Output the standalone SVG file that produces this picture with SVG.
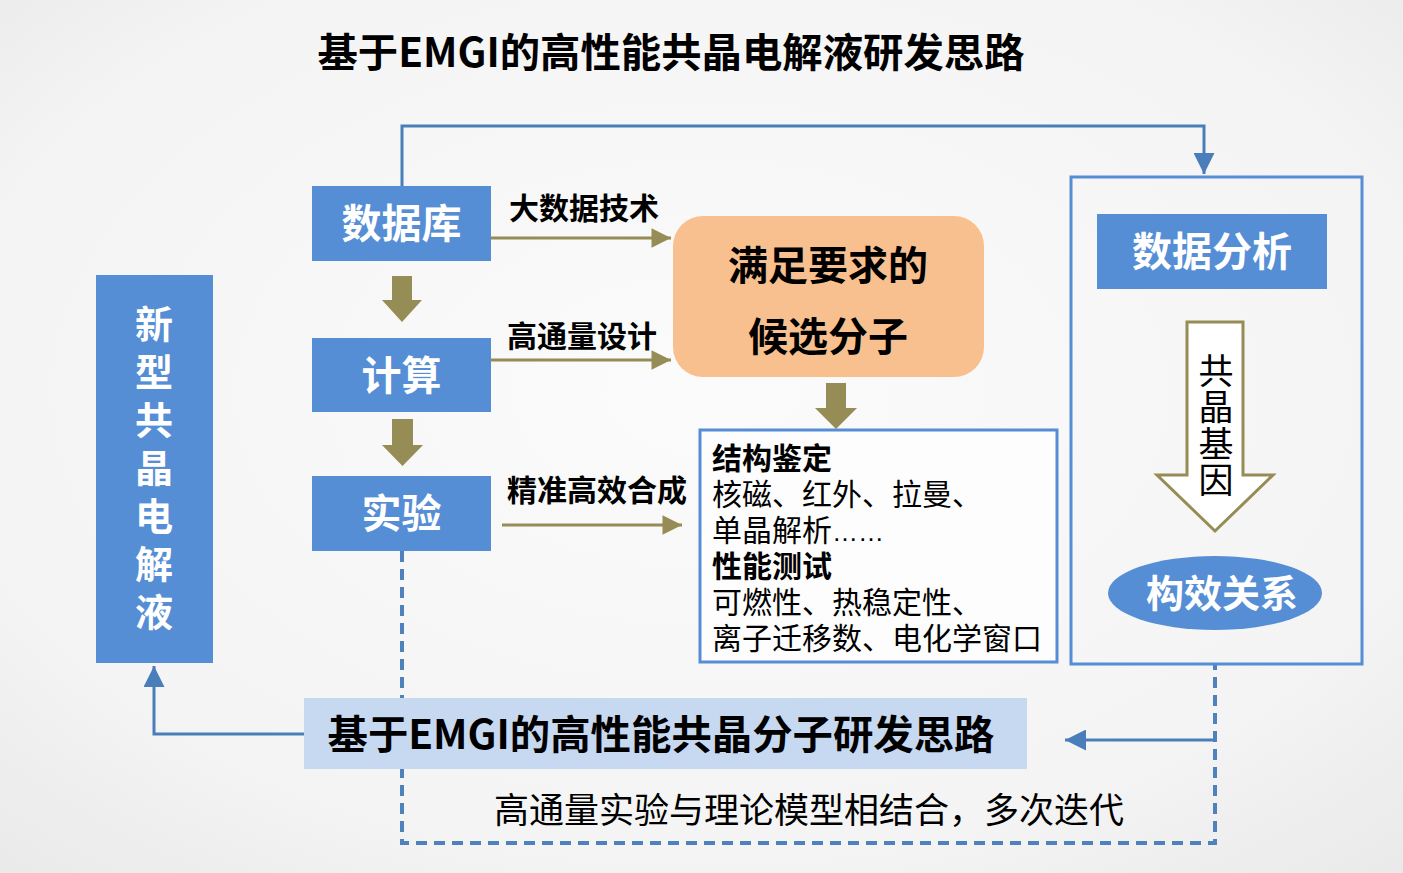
<svg xmlns="http://www.w3.org/2000/svg" width="1403" height="873" viewBox="0 0 1403 873">
<defs>
<radialGradient id="bg" cx="50%" cy="45%" r="75%">
<stop offset="0" stop-color="#fbfbfb"/>
<stop offset="0.7" stop-color="#f4f4f4"/>
<stop offset="1" stop-color="#e9e9e9"/>
</radialGradient>
<marker id="ab" viewBox="0 0 10 10" refX="10" refY="5" markerWidth="7" markerHeight="7" markerUnits="strokeWidth" orient="auto">
<path d="M0,0 L10,5 L0,10 z" fill="#4a7ebb"/>
</marker>
<marker id="ao" viewBox="0 0 10 10" refX="10" refY="5" markerWidth="7" markerHeight="6.5" markerUnits="strokeWidth" orient="auto">
<path d="M0,0 L10,5 L0,10 z" fill="#968c55"/>
</marker>
</defs>
<style>
text{font-family:"Noto Sans CJK SC","Noto Sans",sans-serif;}
.b{font-weight:bold;}
.w{fill:#ffffff;}
.k{fill:#000000;}
.box{fill:#558ed5;}
.blue{fill:none;stroke:#4a7ebb;stroke-width:3;}
.olive{fill:none;stroke:#968c55;stroke-width:3;}
.dash{fill:none;stroke:#4f81bd;stroke-width:4;stroke-dasharray:11 7;}
.fat{fill:#968c55;}
</style>
<rect x="0" y="0" width="1403" height="873" fill="url(#bg)"/>

<text id="title" x="671" y="67" text-anchor="middle" class="b k" font-size="40" textLength="707" lengthAdjust="spacingAndGlyphs">基于EMGI的高性能共晶电解液研发思路</text>

<g id="connectors">
<path class="dash" d="M402,551 L402,843 L1215,843 L1215,664"/>
<path class="blue" d="M402,186 L402,126 L1204,126 L1204,174" marker-end="url(#ab)"/>
<path class="blue" d="M304,734 L154,734 L154,666" marker-end="url(#ab)"/>
<path class="blue" d="M1215,740 L1065,740" marker-end="url(#ab)"/>
<path class="olive" d="M491,238 L671,238" marker-end="url(#ao)"/>
<path class="olive" d="M491,360 L671,360" marker-end="url(#ao)"/>
<path class="olive" d="M502,525 L682,525" marker-end="url(#ao)"/>
<path class="fat" d="M392,276 L412,276 L412,300 L422,300 L402,322 L382,300 L392,300 z"/>
<path class="fat" d="M392,419 L413,419 L413,445 L423,445 L402.5,466 L382,445 L392,445 z"/>
<path class="fat" d="M826,383 L846,383 L846,408 L857,408 L836,429 L815,408 L826,408 z"/>
<text x="509" y="219" class="b k" font-size="30">大数据技术</text>
<text x="507" y="347" class="b k" font-size="30">高通量设计</text>
<text x="507" y="501" class="b k" font-size="30">精准高效合成</text>
</g>

<g id="node-electrolyte">
<rect x="96" y="275" width="117" height="388" class="box"/>
<g class="b w" font-size="38" text-anchor="middle">
<text x="154" y="338">新</text>
<text x="154" y="386">型</text>
<text x="154" y="434">共</text>
<text x="154" y="482">晶</text>
<text x="154" y="530">电</text>
<text x="154" y="578">解</text>
<text x="154" y="626">液</text>
</g>
</g>

<g id="node-database">
<rect x="312" y="186" width="179" height="75" class="box"/>
<text x="401.5" y="238" text-anchor="middle" class="b w" font-size="40">数据库</text>
</g>
<g id="node-compute">
<rect x="312" y="338" width="179" height="74" class="box"/>
<text x="401.5" y="390" text-anchor="middle" class="b w" font-size="40">计算</text>
</g>
<g id="node-experiment">
<rect x="312" y="476" width="179" height="75" class="box"/>
<text x="401.5" y="528" text-anchor="middle" class="b w" font-size="40">实验</text>
</g>

<g id="node-candidate">
<rect x="673" y="216" width="311" height="161" rx="30" fill="#f9c08f"/>
<text x="828" y="280" text-anchor="middle" class="b k" font-size="40">满足要求的</text>
<text x="828" y="351" text-anchor="middle" class="b k" font-size="40">候选分子</text>
</g>

<g id="node-tests">
<rect x="700" y="430" width="357" height="232" fill="#fdfdfd" stroke="#558ed5" stroke-width="3"/>
<text font-size="30" class="k">
<tspan x="712" y="469" class="b">结构鉴定</tspan>
<tspan x="712" y="505">核磁、红外、拉曼、</tspan>
<tspan x="712" y="541">单晶解析<tspan font-family="Liberation Sans, sans-serif" font-size="26">……</tspan></tspan>
<tspan x="712" y="577" class="b">性能测试</tspan>
<tspan x="712" y="613">可燃性、热稳定性、</tspan>
<tspan x="712" y="649">离子迁移数、电化学窗口</tspan>
</text>
</g>

<g id="node-analysis-panel">
<rect x="1071" y="177" width="291" height="487" fill="none" stroke="#558ed5" stroke-width="3"/>
</g>
<g id="node-analysis">
<rect x="1097" y="214" width="230" height="75" class="box"/>
<text x="1212" y="266" text-anchor="middle" class="b w" font-size="40">数据分析</text>
</g>
<g id="node-gene">
<path d="M1187,322 L1243,322 L1243,475 L1273,475 L1215,531 L1157,475 L1187,475 z" fill="#ffffff" stroke="#968c55" stroke-width="3"/>
<text x="1216" y="353" writing-mode="tb" class="k" font-size="35" letter-spacing="1.5">共晶基因</text>
</g>
<g id="node-relation">
<ellipse cx="1215" cy="593" rx="107" ry="37" fill="#558ed5"/>
<text x="1222" y="607" text-anchor="middle" class="b w" font-size="38">构效关系</text>
</g>

<g id="node-banner">
<rect x="304" y="698" width="723" height="71" fill="#c6d9f1"/>
<text x="661" y="749" text-anchor="middle" class="b k" font-size="40" textLength="667" lengthAdjust="spacingAndGlyphs">基于EMGI的高性能共晶分子研发思路</text>
</g>

<text x="809" y="823" text-anchor="middle" class="k" font-size="35">高通量实验与理论模型相结合，多次迭代</text>
</svg>
